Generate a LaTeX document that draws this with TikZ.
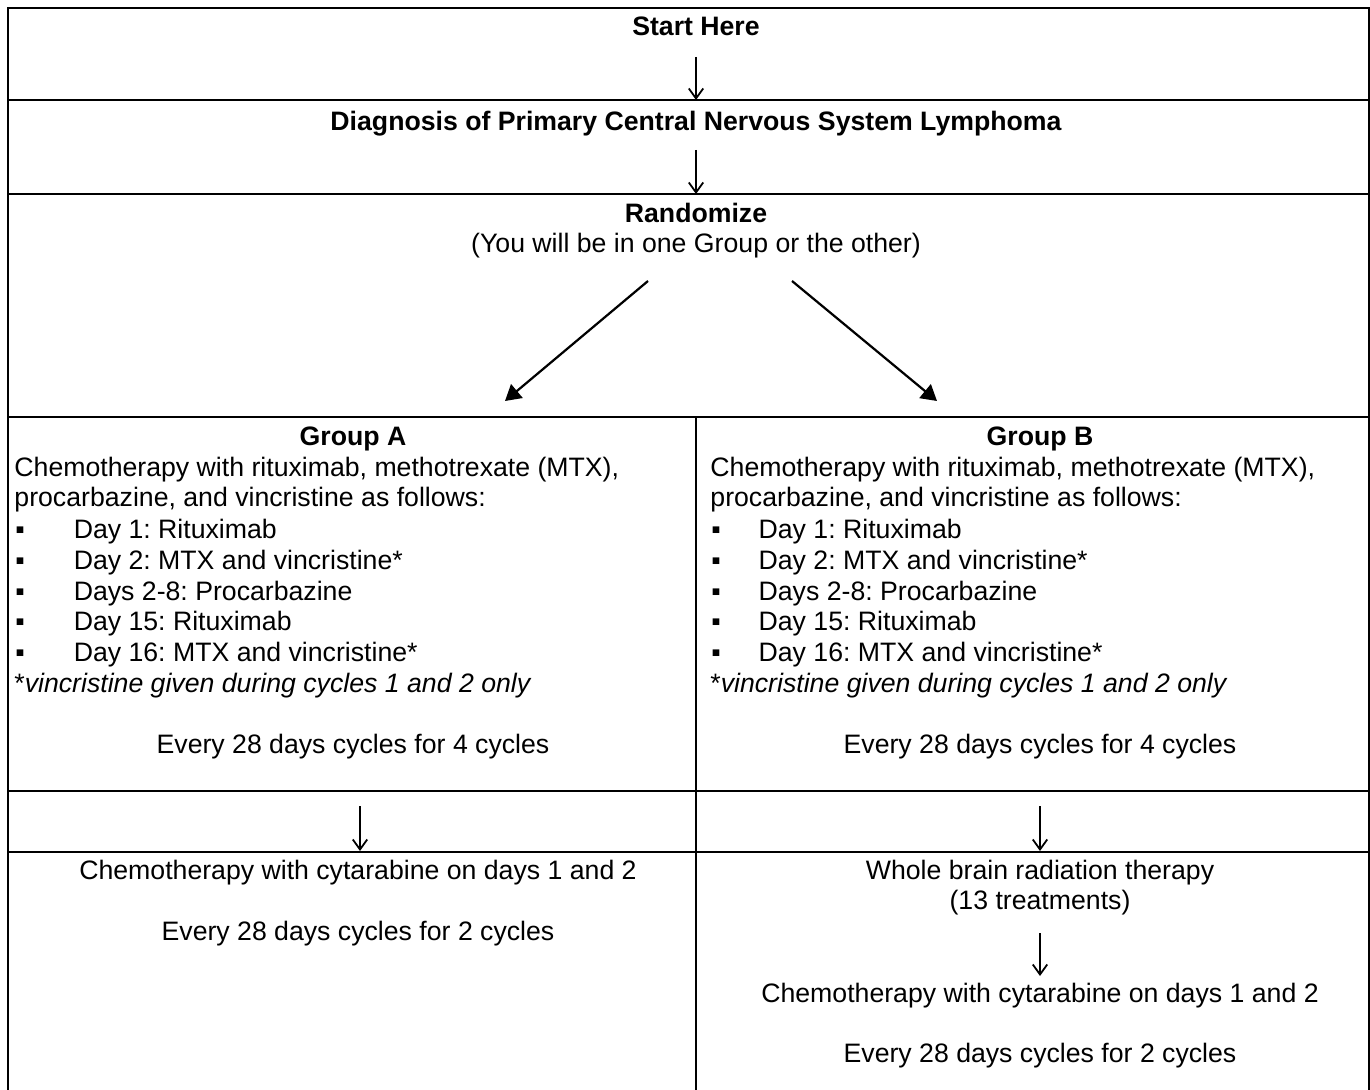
\documentclass[tikz,border=0pt]{standalone}
\usepackage{fontspec}
\setmainfont{Liberation Sans}
\usetikzlibrary{arrows.meta}
\usetikzlibrary{positioning}
\frenchspacing

\tikzset{
    rule/.style={line width=1pt},
    txt/.style={anchor=base,inner sep=0pt},
    ltxt/.style={anchor=base west,inner sep=0pt},
    downarrow/.style={line width=0.8pt,arrows = -{Straight Barb[length=4.5pt,width=6.5pt,line width=0.8pt]}},
    splitarrow/.style={line width=1pt,arrows = -{Triangle[length=7pt,width=8pt]}}
}

\begin{document}
\begin{tikzpicture}[x=0.45pt,y=-0.45pt,font=\fontsize{12}{13.8}\selectfont]

            \useasboundingbox (0,0) rectangle (1370,1090);

            % table lines
            \draw[rule] (8,1090) -- (8,8) -- (1369,8) -- (1369,1090);
            \draw[rule] (8,100) -- (1369,100);
            \draw[rule] (8,194) -- (1369,194);
            \draw[rule] (8,417) -- (1369,417);
            \draw[rule] (8,791) -- (1369,791);
            \draw[rule] (8,852) -- (1369,852);
            \draw[rule] (696,417) -- (696,1090);

            \path   (696,36)  node (start) [txt] {\bfseries Start Here}
                    (696,131) node (diag) [txt] {\bfseries Diagnosis of Primary Central Nervous System Lymphoma}
                    (696,223) node (rand) [txt] {\bfseries Randomize}
                    (696,253) node (randnote) [txt] {(You will be in one Group or the other)};

            % group A
            \path   (353,446) node (grpa) [txt] {\bfseries Group A}
                    (14,477) node (chemoa) [ltxt] {Chemotherapy with rituximab, methotrexate (MTX),}
                    (14,507) node (chemoa2) [ltxt] {procarbazine, and vincristine as follows:}
                    (15,538) node (da1) [ltxt] {▪\hspace{22pt}Day 1: Rituximab}
                    (15,569) node (da2) [ltxt] {▪\hspace{22pt}Day 2: MTX and vincristine*}
                    (15,600) node (da3) [ltxt] {▪\hspace{22pt}Days 2-8: Procarbazine}
                    (15,630) node (da4) [ltxt] {▪\hspace{22pt}Day 15: Rituximab}
                    (15,661) node (da5) [ltxt] {▪\hspace{22pt}Day 16: MTX and vincristine*}
                    (14,692) node (notea) [ltxt] {*\textit{vincristine given during cycles 1 and 2 only}}
                    (353,753) node (cyclea) [txt] {Every 28 days cycles for 4 cycles};

            % group B
            \path   (1040,446) node (grpb) [txt] {\bfseries Group B}
                    (710,477) node (chemob) [ltxt] {Chemotherapy with rituximab, methotrexate (MTX),}
                    (710,507) node (chemob2) [ltxt] {procarbazine, and vincristine as follows:}
                    (711,538) node (db1) [ltxt] {▪\hspace{17pt}Day 1: Rituximab}
                    (711,569) node (db2) [ltxt] {▪\hspace{17pt}Day 2: MTX and vincristine*}
                    (711,600) node (db3) [ltxt] {▪\hspace{17pt}Days 2-8: Procarbazine}
                    (711,630) node (db4) [ltxt] {▪\hspace{17pt}Day 15: Rituximab}
                    (711,661) node (db5) [ltxt] {▪\hspace{17pt}Day 16: MTX and vincristine*}
                    (710,692) node (noteb) [ltxt] {*\textit{vincristine given during cycles 1 and 2 only}}
                    (1040,753) node (cycleb) [txt] {Every 28 days cycles for 4 cycles};

            % after the first block
            \path   (358,879) node (araca) [txt] {Chemotherapy with cytarabine on days 1 and 2}
                    (358,940) node (aracyca) [txt] {Every 28 days cycles for 2 cycles}
                    (1040,879) node (wbrt) [txt] {Whole brain radiation therapy}
                    (1040,909) node (wbrtn) [txt] {(13 treatments)}
                    (1040,1002) node (aracb) [txt] {Chemotherapy with cytarabine on days 1 and 2}
                    (1040,1062) node (aracycb) [txt] {Every 28 days cycles for 2 cycles};

            % arrow ends
            \coordinate (s1) at (696,57);   \coordinate (e1) at (696,100);
            \coordinate (s2) at (696,150);  \coordinate (e2) at (696,194);
            \coordinate (s3) at (648,281);  \coordinate (e3) at (505,401);
            \coordinate (s4) at (792,281);  \coordinate (e4) at (937,401);
            \coordinate (s5) at (360,806);  \coordinate (e5) at (360,851);
            \coordinate (s6) at (1040,806); \coordinate (e6) at (1040,851);
            \coordinate (s7) at (1040,933); \coordinate (e7) at (1040,976);

            \draw[downarrow] (s1) -- (e1);
            \draw[downarrow] (s2) -- (e2);
            \draw[splitarrow] (s3) -- (e3);
            \draw[splitarrow] (s4) -- (e4);
            \draw[downarrow] (s5) -- (e5);
            \draw[downarrow] (s6) -- (e6);
            \draw[downarrow] (s7) -- (e7);

        \end{tikzpicture}
\end{document}
